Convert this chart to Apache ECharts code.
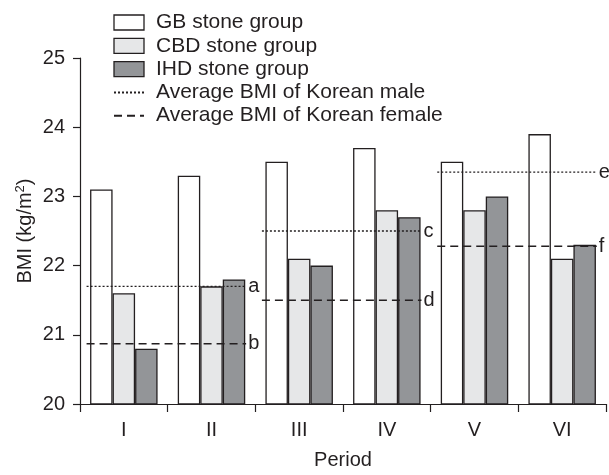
<!DOCTYPE html>
<html>
<head>
<meta charset="utf-8">
<script src="https://cdn.jsdelivr.net/npm/echarts@6/dist/echarts.min.js"></script>
<style>
html,body{margin:0;padding:0;background:#fff;}
#chart{width:609px;height:475px;}
</style>
</head>
<body>
<div id="chart"></div>
<script>
// ---- data ----
var periods = ['I', 'II', 'III', 'IV', 'V', 'VI'];
var gbStone = [23.1, 23.3, 23.5, 23.7, 23.5, 23.9];
var cbdStone = [21.6, 21.7, 22.1, 22.8, 22.8, 22.1];
var ihdStone = [20.8, 21.8, 22.0, 22.7, 23.0, 22.3];
var spanStart = ['I', 'III', 'V'];
var spanEnd = ['II', 'IV', 'VI'];
var maleAvg = [21.7, 22.5, 23.35];
var femaleAvg = [20.87, 21.5, 22.28];
var maleLabels = ['a', 'c', 'e'];
var femaleLabels = ['b', 'd', 'f'];
var yTicks = [20, 21, 22, 23, 24, 25];

var INK = '#231f20';
var FONT = 'Liberation Sans, Arial, sans-serif';
var MALE = 'Average BMI of Korean male';
var FEMALE = 'Average BMI of Korean female';

var chart = echarts.init(document.getElementById('chart'), null, {renderer: 'canvas'});

function barSeries(name, data, color) {
  return {
    name: name, type: 'bar', data: data,
    xAxisIndex: 0, yAxisIndex: 0,
    barGap: '0%', barCategoryGap: '23%',
    itemStyle: {color: color, borderColor: INK, borderWidth: 1.3},
    emphasis: {disabled: true}
  };
}

var padStart = 0.075, padEnd = 0.105;
function refSeries(name, values, labels, lineType, width) {
  return values.map(function (v, i) {
    var x0 = periods.indexOf(spanStart[i]) + padStart;
    var x1 = periods.indexOf(spanEnd[i]) + 1 - padEnd;
    return {
      name: name, type: 'line', xAxisIndex: 1, yAxisIndex: 0,
      data: [[x0, v], [x1, v]],
      symbol: 'none', silent: true, z: 5,
      itemStyle: {color: INK},
      lineStyle: {color: INK, width: width, type: lineType},
      endLabel: {show: true, formatter: labels[i], distance: 2, color: INK, fontSize: 20, fontFamily: FONT},
      emphasis: {disabled: true}
    };
  });
}

var series = [
  barSeries('GB stone group', gbStone, '#ffffff'),
  barSeries('CBD stone group', cbdStone, '#e6e7e8'),
  barSeries('IHD stone group', ihdStone, '#939598')
].concat(refSeries(MALE, maleAvg, maleLabels, [2, 2], 1.3))
 .concat(refSeries(FEMALE, femaleAvg, femaleLabels, [8, 5], 1.5));

var legendRect = {borderColor: INK, borderWidth: 1.3};

chart.setOption({
  animation: false,
  backgroundColor: '#ffffff',
  textStyle: {fontFamily: FONT, color: INK},
  legend: {
    orient: 'vertical', left: 108, top: 7,
    itemWidth: 30, itemHeight: 15, itemGap: 2.3,
    selectedMode: false,
    textStyle: {fontSize: 21, color: INK, fontFamily: FONT, lineHeight: 21, padding: [0, 0, 0, 7]},
    data: [
      {name: 'GB stone group', icon: 'rect', itemStyle: legendRect},
      {name: 'CBD stone group', icon: 'rect', itemStyle: legendRect},
      {name: 'IHD stone group', icon: 'rect', itemStyle: legendRect},
      {name: MALE, itemStyle: {opacity: 0}},
      {name: FEMALE, itemStyle: {opacity: 0}}
    ]
  },
  grid: {left: 80, right: 3, top: 58, bottom: 66, containLabel: false},
  xAxis: [{
    type: 'category', data: periods,
    axisLine: {lineStyle: {color: INK, width: 1.2}},
    axisTick: {show: true, length: 8, lineStyle: {color: INK, width: 1.2}},
    axisLabel: {fontSize: 20, color: INK, margin: 16, fontFamily: FONT},
    name: 'Period', nameLocation: 'middle', nameGap: 46, nameMoveOverlap: false,
    nameTextStyle: {fontSize: 20, color: INK, fontFamily: FONT}
  }, {
    type: 'value', min: 0, max: periods.length, show: false
  }],
  yAxis: {
    type: 'value', min: yTicks[0], max: yTicks[yTicks.length - 1], interval: 1,
    axisLine: {show: true, lineStyle: {color: INK, width: 1.2}},
    axisTick: {show: true, length: 7, lineStyle: {color: INK, width: 1.2}},
    splitLine: {show: false},
    axisLabel: {fontSize: 20, color: INK, margin: 15, fontFamily: FONT},
    name: '{a|BMI (kg/m}{s|2}{a|)}', nameLocation: 'middle', nameGap: 44, nameMoveOverlap: false,
    nameTextStyle: {
      color: INK, fontFamily: FONT,
      rich: {
        a: {fontSize: 20, color: INK, fontFamily: FONT, lineHeight: 22},
        s: {fontSize: 13, color: INK, fontFamily: FONT, verticalAlign: 'top', lineHeight: 13}
      }
    }
  },
  series: series
});
</script>
</body>
</html>
